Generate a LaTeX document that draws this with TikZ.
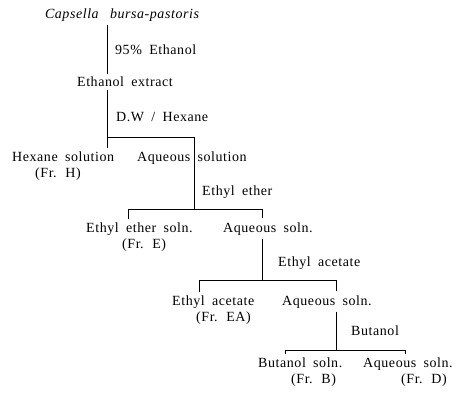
\documentclass[tikz,border=0pt]{standalone}
\usepackage{fontspec}
\setmainfont{Liberation Serif}[LetterSpace=4,WordSpace=1.8]
\begin{document}
\begin{tikzpicture}[x=1pt,y=-1pt,
  txt/.style={inner sep=0pt, font=\fontsize{14}{16}\selectfont},
  multi/.style={txt, align=left},
  conn/.style={line width=0.7pt, black}]
\useasboundingbox (0,0) rectangle (466,395);
% texts
\node[txt] (cap) at (122,15) {\itshape Capsella\hspace{4pt} bursa-pastoris};
\node[txt, anchor=west] (l1) at (115,50) {95\% Ethanol};
\node[txt] (ext) at (125,82) {Ethanol extract};
\node[txt, anchor=west] (l2) at (116,117) {D.W / Hexane};
\node[multi, anchor=west] (hex) at (12,166.5) {Hexane solution\\\hspace*{23pt}(Fr. H)};
\node[txt, anchor=west] (aq1) at (137,158) {Aqueous solution};
\node[txt, anchor=west] (l3) at (202,192) {Ethyl ether};
\node[multi, anchor=west] (eth) at (86,237.5) {Ethyl ether soln.\\\hspace*{36pt}(Fr. E)};
\node[txt, anchor=west] (aq2) at (223,229) {Aqueous soln.};
\node[txt, anchor=west] (l4) at (278,263) {Ethyl acetate};
\node[multi, anchor=west] (ea) at (172,310.5) {Ethyl acetate\\\hspace*{24pt}(Fr. EA)};
\node[txt, anchor=west] (aq3) at (282,302) {Aqueous soln.};
\node[txt, anchor=west] (l5) at (351,331) {Butanol};
\node[multi, anchor=west] (bu) at (258,372.5) {Butanol soln.\\\hspace*{33pt}(Fr. B)};
\node[multi, anchor=west] (fd) at (363,372.5) {Aqueous soln.\\\hspace*{38pt}(Fr. D)};
% junctions
\coordinate (j1) at (107,137);
\coordinate (j1r) at (194,137);
\coordinate (j2s) at (194,209);
\coordinate (j2l) at (128,209);
\coordinate (j2r) at (262,209);
\coordinate (j3s) at (262,280);
\coordinate (j3l) at (199,280);
\coordinate (j3r) at (336,280);
\coordinate (j4s) at (336,350);
\coordinate (j4l) at (285,350);
\coordinate (j4r) at (405,350);
% connectors
\draw[conn, shorten <=3pt, shorten >=3pt] (cap.south -| j1) -- (ext.north -| j1);
\draw[conn, shorten <=3pt] (ext.south -| j1) -- (j1) -- (j1r) -- (j2s);
\draw[conn, shorten >=4pt] (j1) -- (j1 |- hex.north);
\draw[conn] (j2l) -- (j2r);
\draw[conn, shorten >=4pt] (j2l) -- (j2l |- eth.north);
\draw[conn, shorten >=4pt] (j2r) -- (j2r |- aq2.north);
\draw[conn, shorten <=3pt] (aq2.south -| j3s) -- (j3s);
\draw[conn] (j3l) -- (j3r);
\draw[conn, shorten >=4pt] (j3l) -- (j3l |- ea.north);
\draw[conn, shorten >=4pt] (j3r) -- (j3r |- aq3.north);
\draw[conn, shorten <=3pt] (aq3.south -| j4s) -- (j4s);
\draw[conn] (j4l) -- (j4r);
\draw[conn, shorten >=4pt] (j4l) -- (j4l |- bu.north);
\draw[conn, shorten >=4pt] (j4r) -- (j4r |- fd.north);
\end{tikzpicture}
\end{document}
